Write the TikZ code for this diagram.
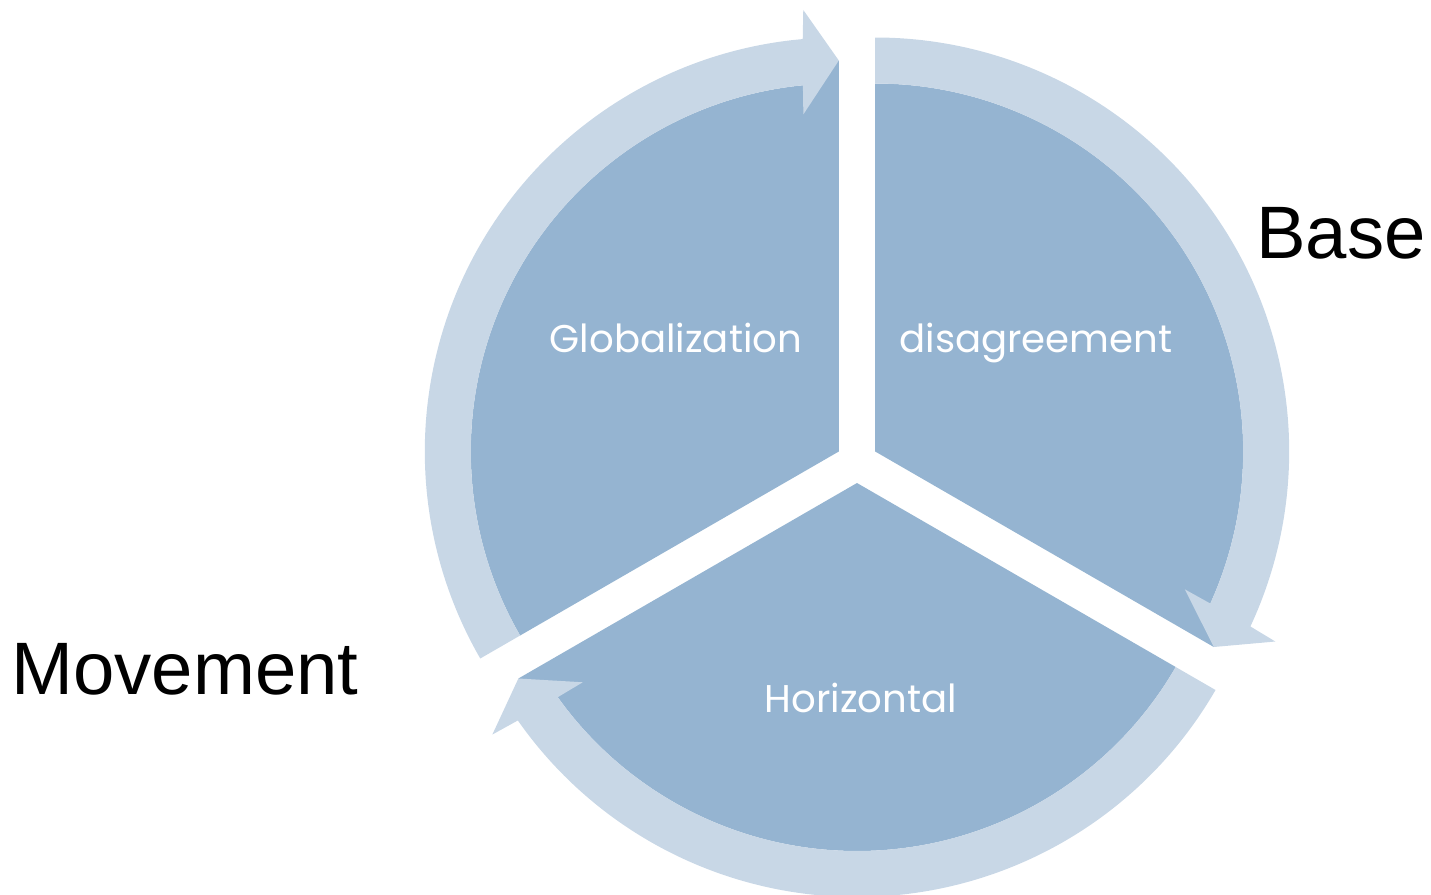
\documentclass[tikz,border=0pt]{standalone}
\usepackage{fontspec}
\usepackage{tikz}
\newfontfamily\segfont{Poppins}
\newfontfamily\sidefont{Liberation Sans}
\definecolor{segblue}{RGB}{149,180,209}
\definecolor{ringblue}{RGB}{200,215,230}

\begin{document}
\begin{tikzpicture}[x=0.02cm,y=0.02cm,
	seg_fill/.style={fill=segblue},
	ring_fill/.style={fill=ringblue},
	seg_label/.style={anchor=base,text=white,inner sep=0pt,font=\segfont\fontsize{22}{26}\selectfont},
	side_label/.style={anchor=base,text=black,inner sep=0pt,font=\sidefont\fontsize{42.3}{48}\selectfont}]
	\useasboundingbox (-857,-432) rectangle (574,462);
	% segments
	\fill[seg_fill,shift={(30:21)}] (0,0) -- (90:368) arc[start angle=90,end angle=-24.4,radius=368] -- (-30:391) -- cycle;
	\fill[seg_fill,shift={(270:21)}] (0,0) -- (-30:368) arc[start angle=-30,end angle=-144.4,radius=368] -- (-150:391) -- cycle;
	\fill[seg_fill,shift={(150:21)}] (0,0) -- (210:368) arc[start angle=210,end angle=95.6,radius=368] -- (90:391) -- cycle;
	% circular arrows
	\fill[ring_fill,shift={(30:21)}] (90:368) -- (90:414) arc[start angle=90,end angle=-25,radius=414]
		-- (-25.4:443) -- (-30:391) -- (-24:339) -- (-24.4:368) arc[start angle=-24.4,end angle=90,radius=368] -- cycle;
	\fill[ring_fill,shift={(270:21)}] (-30:368) -- (-30:414) arc[start angle=-30,end angle=-145,radius=414]
		-- (-145.4:443) -- (-150:391) -- (-144:339) -- (-144.4:368) arc[start angle=-144.4,end angle=-30,radius=368] -- cycle;
	\fill[ring_fill,shift={(150:21)}] (210:368) -- (210:414) arc[start angle=210,end angle=95,radius=414]
		-- (94.6:443) -- (90:391) -- (96:339) -- (95.6:368) arc[start angle=95.6,end angle=210,radius=368] -- cycle;
	% labels
	\node[seg_label] (glob) at (-181,110) {Globalization};
	\node[seg_label] (disag) at (179,110) {disagreement};
	\node[seg_label] (horiz) at (4,-250) {Horizontal};
	\node[side_label] (base) at (484,204) {Base};
	\node[side_label] (move) at (-672,-232) {Movement};
\end{tikzpicture}
\end{document}
